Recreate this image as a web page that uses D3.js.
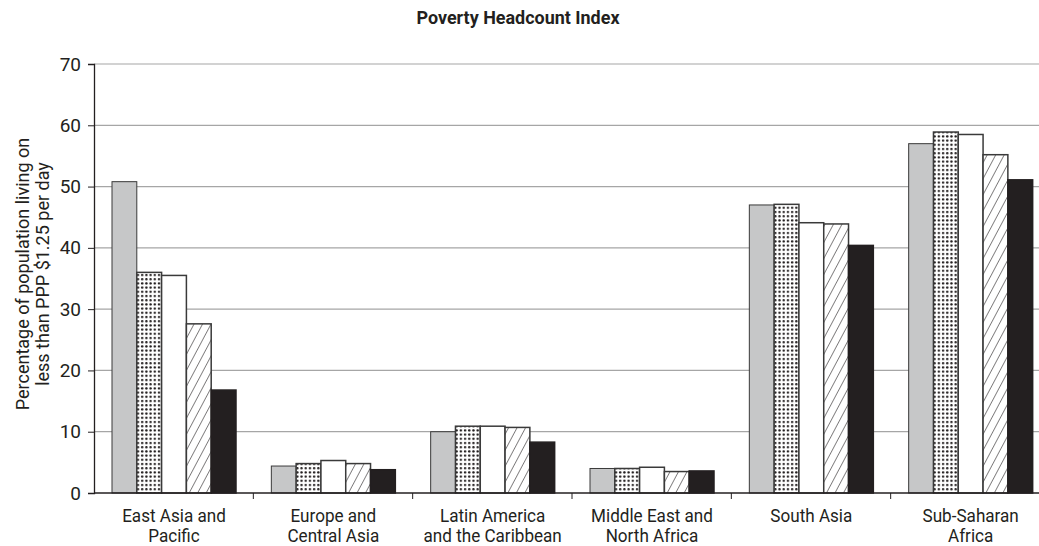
<!DOCTYPE html>
<html>
<head>
<meta charset="utf-8">
<script src="https://cdn.jsdelivr.net/npm/d3@7"></script>
<style>
  body { margin: 0; background: #fff; }
  text { font-family: "Roboto", "Liberation Sans", sans-serif; fill: #231f20; }
</style>
</head>
<body>
<div id="chart"></div>
<script>
// regions (x axis), two lines each
const regions = ["East Asia and Pacific", "Europe and Central Asia", "Latin America and the Caribbean",
   "Middle East and North Africa", "South Asia", "Sub-Saharan Africa"];
const regionLines = [["East Asia and", "Pacific"], ["Europe and", "Central Asia"], ["Latin America", "and the Caribbean"],
   ["Middle East and", "North Africa"], ["South Asia"], ["Sub-Saharan", "Africa"]];
const years = ["1993", "1996", "1999", "2002", "2005"];

// headcount % per region, one value per year
const y1993 = [50.8, 4.4, 10.0, 4.0, 47.0, 57.0];
const y1996 = [36.0, 4.8, 10.9, 4.0, 47.1, 58.9];
const y1999 = [35.5, 5.3, 10.9, 4.2, 44.1, 58.5];
const y2002 = [27.6, 4.8, 10.7, 3.5, 43.9, 55.2];
const y2005 = [16.8, 3.8, 8.3, 3.6, 40.4, 51.1];
const yTicks = [0, 10, 20, 30, 40, 50, 60, 70];

const series = [y1993, y1996, y1999, y2002, y2005];

const width = 1039, height = 546;
const plotLeft = 94, plotRight = 1050, plotTop = 64, plotBottom = 493;

const svg = d3.select("#chart").append("svg")
   .attr("width", width)
   .attr("height", height);

// patterns
const defs = svg.append("defs");
const dots = defs.append("pattern")
   .attr("id", "dots")
   .attr("patternUnits", "userSpaceOnUse")
   .attr("width", 4.2).attr("height", 4.2);
dots.append("rect").attr("width", 4.2).attr("height", 4.2).attr("fill", "#fff");
dots.append("circle").attr("cx", 2).attr("cy", 2).attr("r", 1.2).attr("fill", "#231f20");

const hatch = defs.append("pattern")
   .attr("id", "hatch")
   .attr("patternUnits", "userSpaceOnUse")
   .attr("width", 7.5).attr("height", 8)
   .attr("patternTransform", "rotate(28)");
hatch.append("rect").attr("width", 7.5).attr("height", 8).attr("fill", "#fff");
hatch.append("line").attr("x1", 0).attr("y1", 0).attr("x2", 0).attr("y2", 8)
   .attr("stroke", "#231f20").attr("stroke-width", 1.1);

const fills = ["#c6c7c8", "url(#dots)", "#fff", "url(#hatch)", "#231f20"];

const x0 = d3.scaleBand().domain(regions).range([plotLeft, plotRight]);
const x1 = d3.scaleBand().domain(years).range([18, 142]);
const y = d3.scaleLinear().domain([0, 70]).range([plotBottom, plotTop]);

// title
svg.append("text")
   .attr("x", 518).attr("y", 24)
   .attr("text-anchor", "middle")
   .attr("font-size", "18.5px")
   .attr("font-weight", "bold")
   .attr("transform", "translate(518,0) scale(0.97,1) translate(-518,0)")
   .text("Poverty Headcount Index");

// gridlines
svg.append("g")
   .selectAll("line")
   .data(yTicks.filter(d => d > 0))
   .enter()
   .append("line")
   .attr("x1", plotLeft).attr("x2", plotRight)
   .attr("y1", d => y(d)).attr("y2", d => y(d))
   .attr("stroke", "#a6a6a6")
   .attr("stroke-width", 1.2);

// bars
const groups = svg.append("g")
   .selectAll("g")
   .data(regions)
   .enter()
   .append("g")
   .attr("transform", d => "translate(" + x0(d) + ",0)");

groups.selectAll("rect")
   .data((d, i) => years.map((yr, j) => ({ yr: yr, j: j, v: series[j][i] })))
   .enter()
   .append("rect")
   .attr("x", d => x1(d.yr))
   .attr("y", d => y(d.v))
   .attr("width", x1.bandwidth())
   .attr("height", d => plotBottom - y(d.v))
   .attr("fill", d => fills[d.j])
   .attr("stroke", d => d.j == 4 ? "#231f20" : "#3a3a3a")
   .attr("stroke-width", d => d.j == 0 ? 1 : 1.5);

// y axis
const yAxis = svg.append("g")
   .attr("transform", "translate(" + plotLeft + ",0)")
   .call(d3.axisLeft(y).tickValues(yTicks).tickSize(6).tickPadding(7));
yAxis.select(".domain").attr("stroke", "#231f20").attr("stroke-width", 1.3);
yAxis.selectAll(".tick line").attr("stroke", "#231f20");
yAxis.selectAll("text")
   .attr("font-size", "19px")
   .attr("font-family", "Roboto, sans-serif")
   .attr("fill", "#231f20");

// x axis line and separators
svg.append("line")
   .attr("x1", plotLeft).attr("x2", plotRight)
   .attr("y1", plotBottom).attr("y2", plotBottom)
   .attr("stroke", "#231f20").attr("stroke-width", 1.3);

svg.append("g")
   .selectAll("line")
   .data(regions.slice(1))
   .enter()
   .append("line")
   .attr("x1", d => x0(d)).attr("x2", d => x0(d))
   .attr("y1", plotBottom).attr("y2", plotBottom + 6)
   .attr("stroke", "#231f20");

// category labels
const labels = svg.append("g")
   .selectAll("text")
   .data(regions)
   .enter()
   .append("text")
   .attr("text-anchor", "middle")
   .attr("font-size", "19px")
   .attr("transform", d => "translate(" + (x0(d) + 80) + ",522) scale(0.9,1)");

labels.selectAll("tspan")
   .data((d, i) => regionLines[i])
   .enter()
   .append("tspan")
   .attr("x", 0)
   .attr("dy", (d, i) => i == 0 ? 0 : 20)
   .text(d => d);

// y axis title
svg.append("text")
   .attr("transform", "translate(29,274) rotate(-90)")
   .attr("text-anchor", "middle")
   .attr("font-size", "18px")
   .selectAll("tspan")
   .data(["Percentage of population living on", "less than PPP $1.25 per day"])
   .enter()
   .append("tspan")
   .attr("x", 0)
   .attr("dy", (d, i) => i == 0 ? 0 : 20)
   .text(d => d);
</script>
</body>
</html>
